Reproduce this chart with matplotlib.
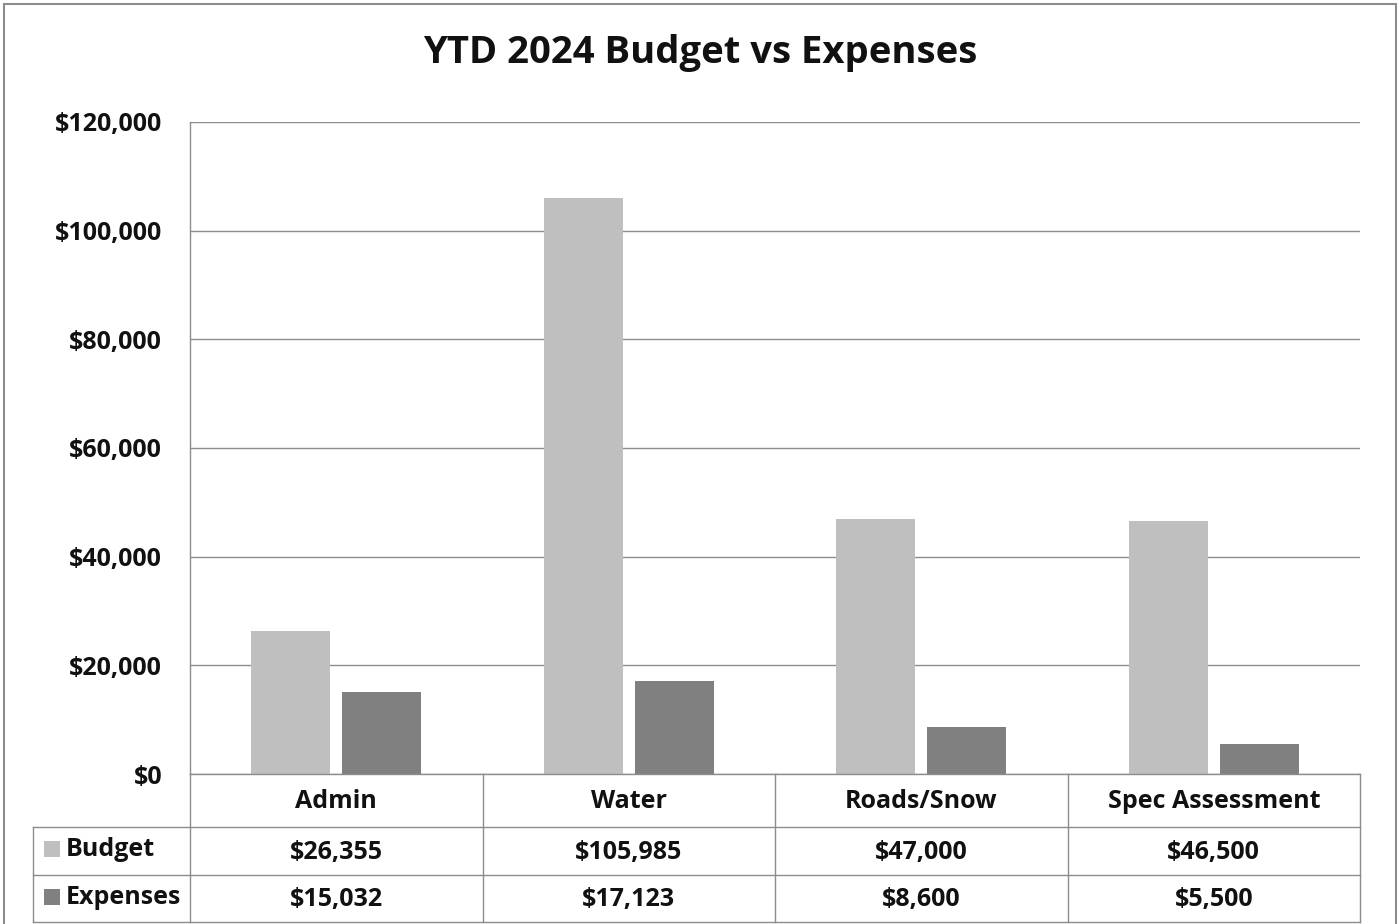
import matplotlib
matplotlib.use("Agg")
import matplotlib.pyplot as plt
import matplotlib.transforms as mtransforms
from matplotlib.patches import Rectangle
from matplotlib.lines import Line2D
import numpy as np

categories = ["Admin", "Water", "Roads/Snow", "Spec Assessment"]
budget = [26355, 105985, 47000, 46500]
expenses = [15032, 17123, 8600, 5500]
series_names = ["Budget", "Expenses"]
yticks = [0, 20000, 40000, 60000, 80000, 100000, 120000]
title = "YTD 2024 Budget vs Expenses"

c_budget = "#bfbfbf"
c_exp = "#808080"
grid_c = "#8c8c8c"
FONT = "Open Sans"
TXT_C = "#111111"

W, H = 1400, 924
fig = plt.figure(figsize=(W / 100, H / 100), dpi=100)
fig.patch.set_facecolor("white")

def fx(px):
    return px / W

def fy(py):
    return 1 - py / H

ax = fig.add_axes([fx(190), fy(774), fx(1360) - fx(190), fy(122) - fy(774)])
ax.set_xlim(-0.5, len(categories) - 0.5)
ax.set_ylim(0, 120000)

x = np.arange(len(categories))
bw = 0.27
gap = 0.041
ax.bar(x - (bw + gap) / 2, budget, width=bw, color=c_budget, zorder=3)
ax.bar(x + (bw + gap) / 2, expenses, width=bw, color=c_exp, zorder=3)

ax.set_yticks(yticks)
ax.set_yticklabels([f"${v:,.0f}" for v in yticks], fontfamily=FONT,
                   fontweight="bold", fontsize=18, color=TXT_C)
ax.tick_params(axis="y", length=0, pad=20)
ax.set_xticks([])
ax.grid(axis="y", color=grid_c, linewidth=1.0, zorder=0)
for s in ["top", "right", "bottom"]:
    ax.spines[s].set_visible(False)
ax.spines["left"].set_color(grid_c)
ax.spines["left"].set_linewidth(1.0)

# Data table below the plot (x in data units, y in figure units)
trans = mtransforms.blended_transform_factory(ax.transData, fig.transFigure)
left_edge = -0.5 - (190 - 33) / 292.5
row_y = [774, 827, 875, 922]
line_kw = dict(color=grid_c, linewidth=1.0, transform=trans, clip_on=False)

fig.add_artist(Line2D([-0.5, 3.5], [fy(774), fy(774)], **line_kw))
for ry in row_y[1:]:
    fig.add_artist(Line2D([left_edge, 3.5], [fy(ry), fy(ry)], **line_kw))
for cx in np.arange(-0.5, len(categories), 1.0):
    fig.add_artist(Line2D([cx, cx], [fy(774), fy(922)], **line_kw))
fig.add_artist(Line2D([left_edge, left_edge], [fy(827), fy(922)], **line_kw))

txt_kw = dict(fontfamily=FONT, fontweight="bold", fontsize=18, color=TXT_C,
              transform=trans, ha="center", va="center")
hdr_y = fy((774 + 827) / 2 + 1)
r1_y = fy((827 + 875) / 2 + 2)
r2_y = fy((875 + 922) / 2 + 1)
for i, cat in enumerate(categories):
    fig.text(i, hdr_y, cat, **txt_kw)
    fig.text(i, r1_y, f"${budget[i]:,.0f}", **txt_kw)
    fig.text(i, r2_y, f"${expenses[i]:,.0f}", **txt_kw)

for name, col, yy in [(series_names[0], c_budget, fy(849)), (series_names[1], c_exp, fy(897))]:
    fig.add_artist(Rectangle((fx(44), yy - 8 / H), 16 / W, 16 / H,
                             transform=fig.transFigure, facecolor=col,
                             edgecolor="none"))
    fig.text(fx(66), yy, name, fontfamily=FONT, fontweight="bold", fontsize=18,
             color=TXT_C, ha="left", va="center")

fig.text(0.5, fy(53), title, fontfamily=FONT, fontweight="bold", fontsize=27.5,
         color=TXT_C, ha="center", va="center")

fig.add_artist(Rectangle((fx(4), fy(935)), fx(1396) - fx(4), fy(4) - fy(935),
                         transform=fig.transFigure, facecolor="none",
                         edgecolor="#8c8c8c", linewidth=1.5))

fig.savefig("out.png", dpi=100, facecolor="white")
